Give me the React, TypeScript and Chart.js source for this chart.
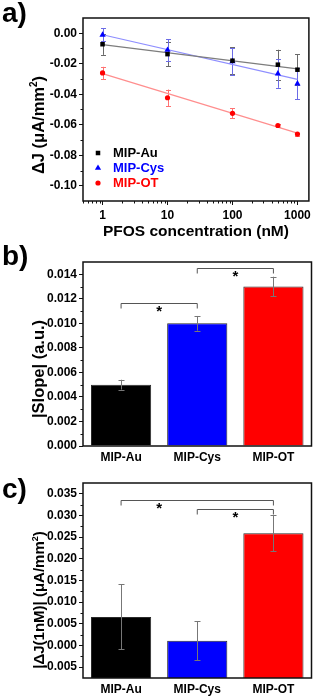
import React, { useEffect, useRef } from "react";
import { Chart, registerables } from "chart.js";
Chart.register(...registerables);

const FONT = "'Liberation Sans', Arial, Helvetica, sans-serif";

// ---------- Panel a ----------
const CONC = [1, 10, 100, 500, 1000];
const AU_DJ = [-0.0072, -0.0137, -0.018, -0.0206, -0.0239];
const AU_ERR = [0.007, 0.008, 0.0089, 0.0098, 0.0102];
const CYS_DJ = [-0.0011, -0.011, -0.0185, -0.0265, -0.033];
const CYS_ERR = [0.0043, 0.0072, 0.0087, 0.0093, 0.0102];
const OT_DJ = [-0.026, -0.0423, -0.0525, -0.0605, -0.0661];
const OT_ERR = [0.004, 0.0054, 0.0033, 0.001, 0.001];
const FIT_X = [1, 1000];
const AU_FIT = [-0.0075, -0.0233];
const CYS_FIT = [-0.001, -0.0303];
const OT_FIT = [-0.0265, -0.0655];
const A_X_TICKS = [1, 10, 100, 1000];
const A_Y_TICKS = [-0.1, -0.08, -0.06, -0.04, -0.02, 0];
const A_X_MIN = 0.5;
const A_X_MAX = 1500;
const A_Y_MIN = -0.11;
const A_Y_MAX = 0.01;

// ---------- Panel b ----------
const SENSORS = ["MIP-Au", "MIP-Cys", "MIP-OT"];
const SLOPE = [0.005, 0.01, 0.013];
const SLOPE_ERR = [0.0004, 0.0006, 0.0008];
const B_Y_TICKS = [0, 0.002, 0.004, 0.006, 0.008, 0.01, 0.012, 0.014];
const B_Y_MIN = 0;
const B_Y_MAX = 0.015;
const B_BRACKET_FROM = [0, 1];
const B_BRACKET_TO = [1, 2];
const B_BRACKET_LEVEL = [0.01167, 0.01453];
const B_STAR_AT = [0.5, 1.5];

// ---------- Panel c ----------
const DJ1 = [0.0066, 0.0011, 0.0259];
const DJ1_ERR = [0.0075, 0.0045, 0.0041];
const C_Y_TICKS = [-0.005, 0, 0.005, 0.01, 0.015, 0.02, 0.025, 0.03, 0.035];
const C_Y_MIN = -0.0075;
const C_Y_MAX = 0.0375;
const C_BRACKET_FROM = [0, 1];
const C_BRACKET_TO = [2, 2];
const C_BRACKET_LEVEL = [0.03365, 0.03158];
const C_STAR_AT = [0.5, 1.5];

const BAR_COLORS = ["#000000", "#0000ff", "#ff0000"];

type Overlay = {
  panel: string;
  panelY: number;
  yTitle: string[]; // [before, superscript, after]
  yTitleX: number;
  yTitleY: number;
  yTitleSize: number;
  minorLinear?: number[];
  minorLogX?: boolean;
  errorsBehind: boolean;
  cap: number;
  brackets?: { from: number[]; to: number[]; level: number[]; star: number[] };
  legend?: { x: number; y: number; dy: number };
};

function drawMarker(ctx: CanvasRenderingContext2D, style: string, x: number, y: number, r: number, color: string) {
  ctx.save();
  ctx.fillStyle = color;
  ctx.beginPath();
  if (style === "rect") {
    const s = Math.SQRT1_2 * r;
    ctx.rect(x - s, y - s, 2 * s, 2 * s);
  } else if (style === "triangle") {
    ctx.moveTo(x, y - r);
    ctx.lineTo(x + r * 0.866, y + r * 0.5);
    ctx.lineTo(x - r * 0.866, y + r * 0.5);
    ctx.closePath();
  } else {
    ctx.arc(x, y, r, 0, Math.PI * 2);
  }
  ctx.fill();
  ctx.restore();
}

function makeOverlay(cfg: Overlay) {
  const drawErrors = (chart: any) => {
    const ctx: CanvasRenderingContext2D = chart.ctx;
    const ys = chart.scales.y;
    chart.data.datasets.forEach((ds: any, di: number) => {
      if (!ds.errorBars) return;
      const meta = chart.getDatasetMeta(di);
      ctx.save();
      ctx.strokeStyle = ds.errorColor || "#666";
      ctx.lineWidth = 1;
      meta.data.forEach((el: any, i: number) => {
        const raw = ds.data[i];
        const v = typeof raw === "number" ? raw : raw.y;
        const e = ds.errorBars[i];
        const x = Math.round(el.x) + 0.5;
        const yt = ys.getPixelForValue(v + e);
        const yb = ys.getPixelForValue(v - e);
        ctx.beginPath();
        ctx.moveTo(x, yt);
        ctx.lineTo(x, yb);
        ctx.moveTo(x - cfg.cap, Math.round(yt) + 0.5);
        ctx.lineTo(x + cfg.cap, Math.round(yt) + 0.5);
        ctx.moveTo(x - cfg.cap, Math.round(yb) + 0.5);
        ctx.lineTo(x + cfg.cap, Math.round(yb) + 0.5);
        ctx.stroke();
      });
      ctx.restore();
    });
  };
  return {
    id: "overlay",
    beforeDatasetsDraw(chart: any) {
      if (cfg.errorsBehind) drawErrors(chart);
    },
    afterDatasetsDraw(chart: any) {
      if (!cfg.errorsBehind) drawErrors(chart);
      const ctx: CanvasRenderingContext2D = chart.ctx;
      const a = chart.chartArea;
      const xs = chart.scales.x;
      const ys = chart.scales.y;
      ctx.save();
      ctx.strokeStyle = "#111";
      ctx.lineWidth = 1.5;
      ctx.strokeRect(a.left, a.top, a.right - a.left, a.bottom - a.top);
      ctx.lineWidth = 1;
      ctx.strokeStyle = "#111";
      if (cfg.minorLinear) {
        cfg.minorLinear.forEach((v) => {
          const y = Math.round(ys.getPixelForValue(v)) + 0.5;
          ctx.beginPath();
          ctx.moveTo(a.left, y);
          ctx.lineTo(a.left - 2.5, y);
          ctx.stroke();
        });
      }
      if (cfg.minorLogX) {
        for (let k = -1; k <= 3; k++) {
          for (let m = 2; m <= 9; m++) {
            const v = m * Math.pow(10, k);
            if (v < xs.min || v > xs.max) continue;
            const x = Math.round(xs.getPixelForValue(v)) + 0.5;
            ctx.beginPath();
            ctx.moveTo(x, a.bottom);
            ctx.lineTo(x, a.bottom + 2.5);
            ctx.stroke();
          }
        }
      }
      if (cfg.brackets) {
        const b = cfg.brackets;
        ctx.strokeStyle = "#555";
        ctx.lineWidth = 1;
        b.from.forEach((f, i) => {
          const x1 = xs.getPixelForValue(f);
          const x2 = xs.getPixelForValue(b.to[i]);
          const y = Math.round(ys.getPixelForValue(b.level[i])) + 0.5;
          ctx.beginPath();
          ctx.moveTo(x1, y + 5);
          ctx.lineTo(x1, y);
          ctx.lineTo(x2, y);
          ctx.lineTo(x2, y + 5);
          ctx.stroke();
          const k0 = Math.floor(b.star[i]);
          const p0 = xs.getPixelForValue(k0);
          const p1 = xs.getPixelForValue(k0 + 1);
          const sx = p0 + (p1 - p0) * (b.star[i] - k0);
          ctx.fillStyle = "#000";
          ctx.font = `bold 15px ${FONT}`;
          ctx.textAlign = "center";
          ctx.textBaseline = "top";
          ctx.fillText("*", sx, y + 1);
        });
      }
      if (cfg.legend) {
        const L = cfg.legend;
        let row = 0;
        chart.data.datasets.forEach((ds: any) => {
          if (!ds.inLegend) return;
          const y = L.y + row * L.dy;
          drawMarker(ctx, ds.pointStyle, L.x, y, ds.pointRadius, ds.backgroundColor);
          ctx.fillStyle = ds.backgroundColor;
          ctx.font = `bold 13px ${FONT}`;
          ctx.textAlign = "left";
          ctx.textBaseline = "middle";
          ctx.fillText(ds.label, L.x + 15, y);
          row++;
        });
      }
      ctx.restore();
    },
    afterDraw(chart: any) {
      const ctx: CanvasRenderingContext2D = chart.ctx;
      ctx.save();
      ctx.fillStyle = "#000";
      ctx.font = `bold 28px ${FONT}`;
      ctx.textAlign = "left";
      ctx.textBaseline = "top";
      ctx.fillText(cfg.panel, 2, cfg.panelY);
      const size = cfg.yTitleSize;
      const [t1, sup, t2] = cfg.yTitle;
      const big = `bold ${size}px ${FONT}`;
      const small = `bold ${Math.round(size * 0.62)}px ${FONT}`;
      ctx.font = big;
      const w1 = ctx.measureText(t1).width;
      const w3 = t2 ? ctx.measureText(t2).width : 0;
      ctx.font = small;
      const w2 = sup ? ctx.measureText(sup).width : 0;
      const total = w1 + w2 + w3;
      ctx.translate(cfg.yTitleX, cfg.yTitleY);
      ctx.rotate(-Math.PI / 2);
      ctx.textBaseline = "alphabetic";
      const base = size * 0.36;
      let x = -total / 2;
      ctx.font = big;
      ctx.fillText(t1, x, base);
      x += w1;
      if (sup) {
        ctx.font = small;
        ctx.fillText(sup, x, base - size * 0.42);
        x += w2;
      }
      if (t2) {
        ctx.font = big;
        ctx.fillText(t2, x, base);
      }
      ctx.restore();
    },
  };
}

function minorsOf(ticks: number[], min: number, max: number): number[] {
  const step = ticks[1] - ticks[0];
  const out: number[] = [];
  ticks.forEach((t) => {
    [t - step / 2, t + step / 2].forEach((v) => {
      if (v > min + 1e-9 && v < max - 1e-9 && !out.some((o) => Math.abs(o - v) < 1e-9)) out.push(v);
    });
  });
  return out;
}

const tickFont = { family: FONT, size: 12, weight: "bold" as const };

function linearY(min: number, max: number, ticks: number[], digits: number, width: number) {
  return {
    type: "linear" as const,
    min,
    max,
    afterBuildTicks: (s: any) => {
      s.ticks = ticks.map((v) => ({ value: v }));
    },
    afterFit: (s: any) => {
      s.width = width;
    },
    ticks: {
      callback: (v: any) => Number(v).toFixed(digits),
      font: tickFont,
      color: "#000",
      padding: 2,
      autoSkip: false,
    },
    grid: { drawOnChartArea: false, drawTicks: true, tickLength: 4, tickColor: "#111", tickWidth: 1 },
    border: { display: false },
  };
}

function PanelA() {
  const ref = useRef<HTMLCanvasElement>(null);
  useEffect(() => {
    const mk = (xs: number[], ys: number[]) => xs.map((x, i) => ({ x, y: ys[i] }));
    const chart = new Chart(ref.current!, {
      type: "scatter",
      data: {
        datasets: [
          { type: "line", label: "fit Au", data: mk(FIT_X, AU_FIT), borderColor: "#7d7d7d", borderWidth: 1.2, pointRadius: 0, showLine: true, fill: false, order: 2 } as any,
          { type: "line", label: "fit Cys", data: mk(FIT_X, CYS_FIT), borderColor: "#8e8eff", borderWidth: 1.2, pointRadius: 0, showLine: true, fill: false, order: 2 } as any,
          { type: "line", label: "fit OT", data: mk(FIT_X, OT_FIT), borderColor: "#ff8e8e", borderWidth: 1.2, pointRadius: 0, showLine: true, fill: false, order: 2 } as any,
          { label: "MIP-Au", data: mk(CONC, AU_DJ), pointStyle: "rect", pointRadius: 3.2, backgroundColor: "#000000", borderWidth: 0, errorBars: AU_ERR, errorColor: "#6a6a6a", inLegend: true, order: 1 } as any,
          { label: "MIP-Cys", data: mk(CONC, CYS_DJ), pointStyle: "triangle", pointRadius: 3.6, backgroundColor: "#0000ff", borderWidth: 0, errorBars: CYS_ERR, errorColor: "#6b6be6", inLegend: true, order: 1 } as any,
          { label: "MIP-OT", data: mk(CONC, OT_DJ), pointStyle: "circle", pointRadius: 2.6, backgroundColor: "#ff0000", borderWidth: 0, errorBars: OT_ERR, errorColor: "#ff7272", inLegend: true, order: 1 } as any,
        ],
      },
      options: {
        animation: false,
        responsive: false,
        devicePixelRatio: 1,
        layout: { padding: { top: 18, right: 4, left: 0, bottom: 0 } },
        plugins: { legend: { display: false }, tooltip: { enabled: false } },
        scales: {
          x: {
            type: "logarithmic",
            min: A_X_MIN,
            max: A_X_MAX,
            afterBuildTicks: (s: any) => {
              s.ticks = A_X_TICKS.map((v) => ({ value: v }));
            },
            afterFit: (s: any) => {
              s.height = 41;
            },
            ticks: { callback: (v: any) => String(v), font: tickFont, color: "#000", padding: 3, autoSkip: false, maxRotation: 0 },
            grid: { drawOnChartArea: false, drawTicks: true, tickLength: 4, tickColor: "#111", tickWidth: 1 },
            border: { display: false },
            title: { display: true, text: "PFOS concentration (nM)", color: "#000", font: { family: FONT, size: 15.5, weight: "bold" }, padding: { top: 0, bottom: 1 } },
          },
          y: linearY(A_Y_MIN, A_Y_MAX, A_Y_TICKS, 2, 83),
        },
      } as any,
      plugins: [
        makeOverlay({
          panel: "a)",
          panelY: 0,
          yTitle: ["ΔJ (μA/mm", "2", ")"],
          yTitleX: 38,
          yTitleY: 125,
          yTitleSize: 16.5,
          minorLinear: minorsOf(A_Y_TICKS, A_Y_MIN, A_Y_MAX),
          minorLogX: true,
          errorsBehind: true,
          cap: 2.5,
          legend: { x: 98, y: 153, dy: 15 },
        }),
      ],
    });
    return () => chart.destroy();
  }, []);
  return <canvas ref={ref} width={314} height={242} style={{ position: "absolute", left: 0, top: 0, width: 314, height: 242 }} />;
}

function BarPanel(props: {
  top: number;
  height: number;
  padTop: number;
  xHeight: number;
  values: number[];
  errors: number[];
  yMin: number;
  yMax: number;
  yTicks: number[];
  base?: number;
  overlay: Overlay;
  labelPad: number;
}) {
  const ref = useRef<HTMLCanvasElement>(null);
  useEffect(() => {
    const p = props;
    const chart = new Chart(ref.current!, {
      type: "bar",
      data: {
        labels: SENSORS,
        datasets: [
          {
            data: p.values,
            backgroundColor: BAR_COLORS,
            borderColor: "#2a2a2a",
            borderWidth: 1,
            barPercentage: 0.79,
            categoryPercentage: 1,
            base: p.base,
            errorBars: p.errors,
            errorColor: "#777777",
          } as any,
        ],
      },
      options: {
        animation: false,
        responsive: false,
        devicePixelRatio: 1,
        layout: { padding: { top: p.padTop, right: 2.5, left: 0, bottom: 0 } },
        plugins: { legend: { display: false }, tooltip: { enabled: false } },
        scales: {
          x: {
            type: "category",
            afterFit: (s: any) => {
              s.height = p.xHeight;
            },
            ticks: { font: tickFont, color: "#000", padding: p.labelPad, maxRotation: 0, autoSkip: false },
            grid: { display: false, drawTicks: false },
            border: { display: false },
          },
          y: linearY(p.yMin, p.yMax, p.yTicks, 3, 83),
        },
      } as any,
      plugins: [makeOverlay(p.overlay)],
    });
    return () => chart.destroy();
  }, []);
  return (
    <canvas
      ref={ref}
      width={314}
      height={props.height}
      style={{ position: "absolute", left: 0, top: props.top, width: 314, height: props.height }}
    />
  );
}

export default function App() {
  return (
    <div style={{ position: "absolute", left: 0, top: 0, width: 314, height: 699, background: "#fff", overflow: "hidden" }}>
      <PanelA />
      <BarPanel
        top={242}
        height={226}
        padTop={20}
        xHeight={22}
        values={SLOPE}
        errors={SLOPE_ERR}
        yMin={B_Y_MIN}
        yMax={B_Y_MAX}
        yTicks={B_Y_TICKS}
        labelPad={4}
        overlay={{
          panel: "b)",
          panelY: 1,
          yTitle: ["|Slope| (a.u.)", "", ""],
          yTitleX: 38,
          yTitleY: 127,
          yTitleSize: 16.5,
          minorLinear: minorsOf(B_Y_TICKS, B_Y_MIN, B_Y_MAX),
          errorsBehind: false,
          cap: 3,
          brackets: { from: B_BRACKET_FROM, to: B_BRACKET_TO, level: B_BRACKET_LEVEL, star: B_STAR_AT },
        }}
      />
      <BarPanel
        top={468}
        height={231}
        padTop={15}
        xHeight={21}
        values={DJ1}
        errors={DJ1_ERR}
        yMin={C_Y_MIN}
        yMax={C_Y_MAX}
        yTicks={C_Y_TICKS}
        base={C_Y_MIN}
        labelPad={4}
        overlay={{
          panel: "c)",
          panelY: 8,
          yTitle: ["|ΔJ(1nM)| (μA/mm", "2", ")"],
          yTitleX: 39,
          yTitleY: 132,
          yTitleSize: 15,
          minorLinear: minorsOf(C_Y_TICKS, C_Y_MIN, C_Y_MAX),
          errorsBehind: false,
          cap: 3,
          brackets: { from: C_BRACKET_FROM, to: C_BRACKET_TO, level: C_BRACKET_LEVEL, star: C_STAR_AT },
        }}
      />
    </div>
  );
}
